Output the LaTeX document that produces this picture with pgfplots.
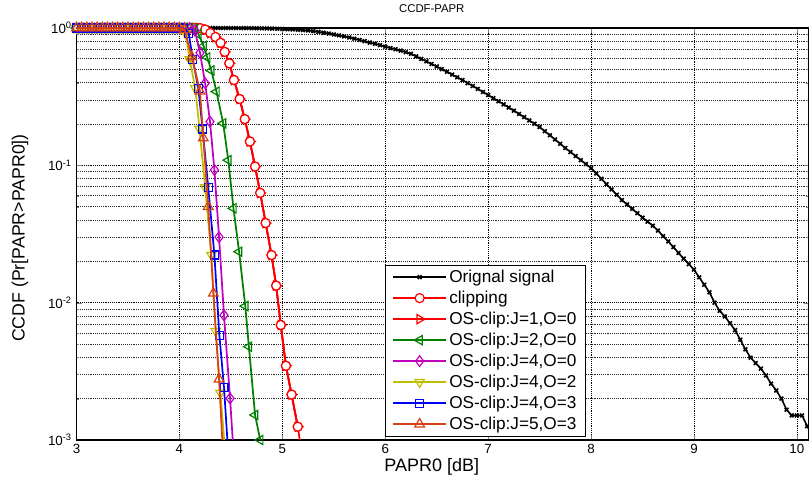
\documentclass[border=0pt]{standalone}
\usepackage{fontspec}
\setmainfont{Liberation Sans}
\usepackage{pgfplots}
\pgfplotsset{compat=1.18}

\definecolor{cred}{RGB}{255,0,0}
\definecolor{cgreen}{RGB}{0,128,0}
\definecolor{cmag}{RGB}{191,0,191}
\definecolor{cyel}{RGB}{191,191,0}
\definecolor{cblue}{RGB}{0,0,255}
\definecolor{corange}{RGB}{217,65,20}

\pgfplotstableread{
x y
3.00 1
3.05 1
3.10 1
3.15 1
3.20 1
3.25 1
3.30 1
3.35 1
3.40 1
3.45 1
3.50 1
3.55 1
3.60 1
3.65 1
3.70 1
3.75 1
3.80 1
3.85 1
3.90 1
3.95 1
4.00 1
4.05 1
4.10 1
4.15 1
4.20 0.998
4.25 0.975
4.30 0.92
4.35 0.86
4.40 0.78
4.44 0.67
4.485 0.553
4.53 0.418
4.585 0.304
4.635 0.217
4.685 0.149
4.735 0.098
4.785 0.063
4.838 0.038
4.895 0.0222
4.94 0.0133
4.985 0.00687
5.035 0.00347
5.09 0.00214
5.15 0.00125
}\clipdata

\begin{document}
\begin{tikzpicture}
\path[use as bounding box] (-57.4pt,-32.25pt) rectangle (549.4pt,330pt);
\begin{axis}[
    at={(0,0)}, anchor=south west,
    scale only axis, width=549.4pt, height=309pt,
    xmin=3, xmax=10.118,
    ymode=log, ymin=1e-3, ymax=1,
    xtick={3,4,5,6,7,8,9,10},
    ytick={0.001,0.01,0.1,1},
    yticklabels={10\textsuperscript{-3},10\textsuperscript{-2},10\textsuperscript{-1},10\textsuperscript{0}},
    /pgf/number format/assume math mode=true,
    tick label style={font=\fontsize{10}{12}\selectfont},
    tick align=inside,
    major tick length=4pt, minor tick length=2pt,
    xmajorgrids, ymajorgrids, yminorgrids,
    major grid style={black, densely dotted, line width=0.5pt},
    minor grid style={black!85, densely dotted, line width=0.45pt},
    axis line style={black, line width=0.8pt},
    title={CCDF-PAPR},
    title style={at={(0.485,1)}, anchor=south, yshift=2pt, font=\fontsize{8.5}{10}\selectfont},
    xlabel={PAPR0 [dB]},
    xlabel style={at={(axis description cs:0.485,-0.0655)}, anchor=center, font=\fontsize{13.5}{15}\selectfont},
    ylabel={CCDF (Pr[PAPR>PAPR0])},
    ylabel style={at={(axis description cs:-0.0772,0.49)}, anchor=center, font=\fontsize{13.3}{15}\selectfont},
    clip mode=individual,
    legend style={at={(0.421,0.008)}, anchor=south west, draw=black, line width=0.8pt,
        font=\fontsize{12.9}{15}\selectfont, row sep=1.7pt, inner xsep=5pt, inner ysep=2pt,
        nodes={inner sep=1.6pt}},
    legend cell align=left,
    legend image code/.code={\draw[mark repeat=2,mark phase=2,#1] plot coordinates {(0pt,0pt) (20pt,0pt) (40pt,0pt)};},
]

% original signal
\addplot[black, line width=1.2pt, mark=x, mark size=2pt] coordinates {
(3.00,1)(3.05,1)(3.10,1)(3.15,1)(3.20,1)(3.25,1)(3.30,1)(3.35,1)(3.40,1)(3.45,1)
(3.50,1)(3.55,1)(3.60,1)(3.65,1)(3.70,1)(3.75,1)(3.80,1)(3.85,1)(3.90,1)(3.95,1)(4.00,1)
(4.05,0.9999)(4.10,0.9999)(4.15,0.9998)(4.20,0.9998)(4.25,0.9997)(4.30,0.9996)(4.35,0.9995)
(4.40,0.9993)(4.45,0.9991)(4.50,0.9988)(4.55,0.9985)(4.60,0.9981)(4.65,0.9976)(4.70,0.9968)
(4.75,0.9957)(4.80,0.9943)(4.85,0.9927)(4.90,0.9904)(4.95,0.9876)(5.00,0.9845)(5.05,0.9806)
(5.10,0.9761)(5.15,0.9712)(5.20,0.9656)(5.25,0.9594)(5.30,0.9484)(5.35,0.9376)(5.40,0.9247)
(5.45,0.9120)(5.50,0.8974)(5.55,0.8831)(5.60,0.8690)(5.65,0.8531)(5.70,0.8356)(5.75,0.8185)
(5.80,0.8017)(5.85,0.7834)(5.90,0.7674)(5.95,0.7499)(6.00,0.7311)(6.05,0.7145)(6.10,0.6998)
(6.15,0.6839)(6.20,0.6668)(6.25,0.6486)(6.30,0.6223)(6.35,0.5957)(6.40,0.5715)(6.45,0.5470)
(6.50,0.5248)(6.55,0.5012)(6.60,0.4797)(6.65,0.4581)(6.70,0.4375)(6.75,0.4178)(6.80,0.3972)
(6.85,0.3784)(6.90,0.3597)(6.95,0.3420)(7.00,0.3251)(7.05,0.3083)(7.10,0.2931)(7.15,0.2780)
(7.20,0.2636)(7.25,0.2500)(7.30,0.2366)(7.35,0.2244)(7.40,0.2123)(7.45,0.2009)(7.50,0.1901)
(7.55,0.1774)(7.60,0.1656)(7.65,0.1542)(7.70,0.1435)(7.75,0.1337)(7.80,0.1250)(7.85,0.1169)
(7.90,0.1091)(7.95,0.1021)(8.00,0.0955)(8.05,0.0873)(8.10,0.0798)(8.15,0.0729)(8.20,0.0667)
(8.25,0.0611)(8.30,0.0558)(8.35,0.0519)(8.40,0.0482)(8.45,0.0448)(8.50,0.0416)(8.55,0.0389)
(8.60,0.0363)(8.65,0.0335)(8.70,0.0305)(8.75,0.0279)(8.80,0.0254)(8.85,0.0230)(8.90,0.0209)
(8.95,0.0191)(9.00,0.0174)(9.05,0.0153)(9.10,0.0135)(9.15,0.0119)(9.20,0.0100)(9.25,0.00871)
(9.30,0.00794)(9.35,0.00708)(9.40,0.00631)(9.45,0.00537)(9.50,0.00457)(9.55,0.00398)
(9.60,0.00363)(9.65,0.00331)(9.70,0.00295)(9.75,0.00257)(9.80,0.00229)(9.85,0.00200)
(9.90,0.00166)(9.95,0.00151)(10.00,0.00151)(10.05,0.00151)(10.10,0.00126)
};
\addlegendentry{Orignal signal}
\addplot[black, line width=1.2pt, forget plot] coordinates {(10.10,0.00126)(10.15,0.00107)};

% clipping
\addplot[cred, line width=1.3pt, mark=*, mark size=3.4pt, mark options={fill=white, line width=0.9pt}] table {\clipdata};
\addlegendentry{clipping}
\addplot[cred, line width=1.3pt, forget plot] coordinates {(5.15,0.00125)(5.20,0.0007)};

% OS-clip J=1,O=0: same values as clipping, hidden under its circles
\addplot[cred, line width=1.3pt, mark=triangle, mark size=4pt, mark options={rotate=-90, line width=0.9pt}] table {\clipdata};
\addlegendentry{OS-clip:J=1,O=0}
\addplot[cred, line width=1.3pt, mark=*, mark size=3.4pt, mark options={fill=white, line width=0.9pt}, forget plot] table {\clipdata};

% J=2,O=0
\addplot[cgreen, line width=1.3pt, mark=triangle, mark size=4pt, mark options={rotate=90, line width=0.9pt}] coordinates {
(3.00,1)(3.05,1)(3.10,1)(3.15,1)(3.20,1)(3.25,1)(3.30,1)(3.35,1)(3.40,1)(3.45,1)
(3.50,1)(3.55,1)(3.60,1)(3.65,1)(3.70,1)(3.75,1)(3.80,1)(3.85,1)(3.90,1)(3.95,1)
(4.00,1)(4.05,1)(4.10,1)
(4.15,0.99)(4.185,0.90)(4.235,0.74)(4.27,0.61)(4.31,0.49)(4.36,0.344)(4.425,0.202)
(4.475,0.109)(4.525,0.0486)(4.58,0.0235)(4.64,0.00944)(4.675,0.00478)(4.735,0.00152)(4.785,0.001)
};
\addlegendentry{OS-clip:J=2,O=0}

% J=4,O=0
\addplot[cmag, line width=1.3pt, mark=diamond, mark size=4pt, mark options={line width=0.9pt}] coordinates {
(3.00,1)(3.05,1)(3.10,1)(3.15,1)(3.20,1)(3.25,1)(3.30,1)(3.35,1)(3.40,1)(3.45,1)
(3.50,1)(3.55,1)(3.60,1)(3.65,1)(3.70,1)(3.75,1)(3.80,1)(3.85,1)(3.90,1)(3.95,1)
(4.00,1)(4.05,1)(4.10,1)
(4.15,0.96)(4.20,0.66)(4.25,0.396)(4.297,0.208)(4.34,0.0925)(4.385,0.030)(4.433,0.0081)(4.492,0.00201)
};
\addlegendentry{OS-clip:J=4,O=0}
\addplot[cmag, line width=1.3pt, forget plot] coordinates {(4.492,0.00201)(4.52,0.00095)};

% J=4,O=2
\addplot[cyel, line width=1.3pt, mark=triangle, mark size=4pt, mark options={rotate=180, line width=0.9pt}] coordinates {
(3.00,1)(3.05,1)(3.10,1)(3.15,1)(3.20,1)(3.25,1)(3.30,1)(3.35,1)(3.40,1)(3.45,1)
(3.50,1)(3.55,1)(3.60,1)(3.65,1)(3.70,1)(3.75,1)(3.80,1)(3.85,1)(3.90,1)(3.95,1)
(4.01,0.99)(4.06,0.915)(4.10,0.59)(4.154,0.364)(4.195,0.184)(4.25,0.069)(4.31,0.0222)
(4.352,0.0062)(4.398,0.0022)
};
\addlegendentry{OS-clip:J=4,O=2}
\addplot[cyel, line width=1.3pt, forget plot] coordinates {(4.398,0.0022)(4.44,0.0009)};

% J=4,O=3
\addplot[cblue, line width=1.3pt, mark=square, mark size=3pt, mark options={line width=0.9pt}] coordinates {
(3.00,1)(3.05,1)(3.10,1)(3.15,1)(3.20,1)(3.25,1)(3.30,1)(3.35,1)(3.40,1)(3.45,1)
(3.50,1)(3.55,1)(3.60,1)(3.65,1)(3.70,1)(3.75,1)(3.80,1)(3.85,1)(3.90,1)(3.95,1)(4.00,1)
(4.04,0.99)(4.09,0.915)(4.13,0.59)(4.184,0.364)(4.225,0.184)(4.28,0.069)(4.34,0.0222)
(4.388,0.0058)(4.433,0.00242)
};
\addlegendentry{OS-clip:J=4,O=3}
\addplot[cblue, line width=1.3pt, forget plot] coordinates {(4.433,0.00242)(4.47,0.0009)};

% J=5,O=3
\addplot[corange, line width=1.3pt, mark=triangle, mark size=4.2pt, mark options={line width=0.9pt}] coordinates {
(3.00,1)(3.05,1)(3.10,1)(3.15,1)(3.20,1)(3.25,1)(3.30,1)(3.35,1)(3.40,1)(3.45,1)
(3.50,1)(3.55,1)(3.60,1)(3.65,1)(3.70,1)(3.75,1)(3.80,1)(3.85,1)(3.90,1)(3.95,1)(4.00,1)
(4.05,0.97)(4.12,0.615)(4.20,0.346)(4.232,0.158)(4.28,0.050)(4.33,0.0117)(4.385,0.00277)
};
\addlegendentry{OS-clip:J=5,O=3}
\addplot[corange, line width=1.3pt, forget plot] coordinates {(4.385,0.00277)(4.42,0.0009)};
\end{axis}
\end{tikzpicture}
\end{document}
